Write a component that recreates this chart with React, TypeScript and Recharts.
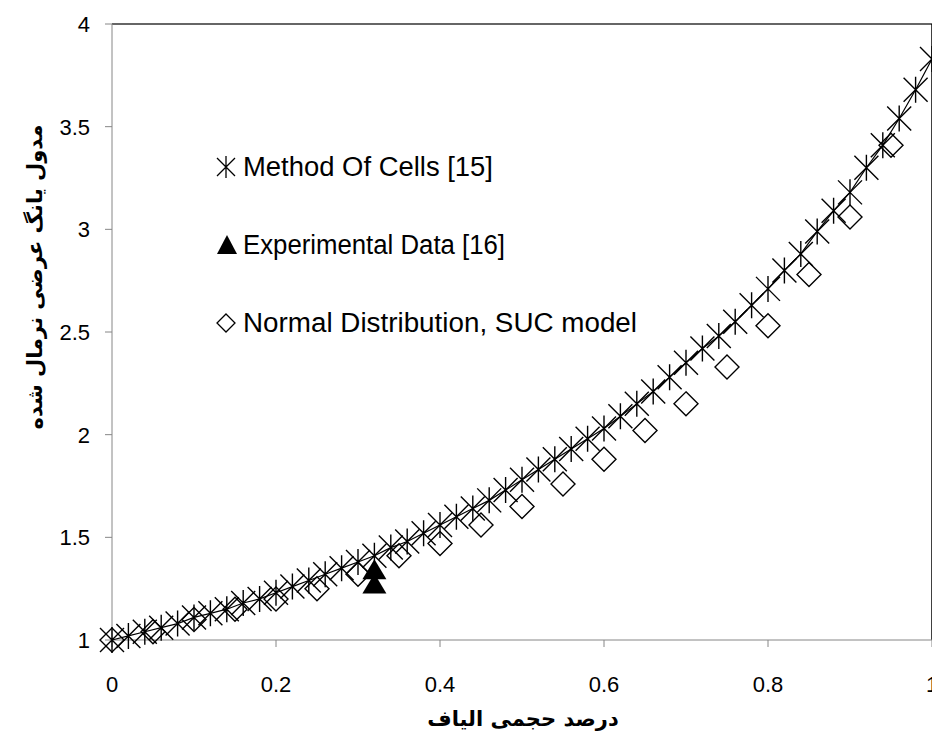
import { ScatterChart, Scatter, XAxis, YAxis, ReferenceLine } from 'recharts';

// Method of Cells [15]
const mocX = [
  0, 0.02, 0.04, 0.06, 0.08, 0.1, 0.12, 0.14, 0.16, 0.18,
  0.2, 0.22, 0.24, 0.26, 0.28, 0.3, 0.32, 0.34, 0.36, 0.38,
  0.4, 0.42, 0.44, 0.46, 0.48, 0.5, 0.52, 0.54, 0.56, 0.58,
  0.6, 0.62, 0.64, 0.66, 0.68, 0.7, 0.72, 0.74, 0.76, 0.78,
  0.8, 0.82, 0.84, 0.86, 0.88, 0.9, 0.92, 0.94, 0.96, 0.98, 1,
];
const mocY = [
  1.0, 1.02, 1.04, 1.06, 1.08, 1.11, 1.13, 1.15, 1.18, 1.2,
  1.23, 1.26, 1.29, 1.32, 1.35, 1.38, 1.41, 1.45, 1.48, 1.52,
  1.56, 1.6, 1.64, 1.68, 1.73, 1.78, 1.83, 1.88, 1.93, 1.98,
  2.03, 2.09, 2.15, 2.21, 2.28, 2.35, 2.42, 2.48, 2.55, 2.63,
  2.71, 2.8, 2.88, 2.99, 3.09, 3.18, 3.3, 3.41, 3.54, 3.68, 3.83,
];

// Experimental Data [16]
const expX = [0.32, 0.32];
const expY = [1.27, 1.34];

// Normal Distribution, SUC model
const sucX = [
  0, 0.05, 0.1, 0.15, 0.2, 0.25, 0.3, 0.35, 0.4, 0.45,
  0.5, 0.55, 0.6, 0.65, 0.7, 0.75, 0.8, 0.85, 0.9, 0.95,
];
const sucY = [
  1.0, 1.04, 1.1, 1.15, 1.2, 1.25, 1.32, 1.41, 1.47, 1.56,
  1.65, 1.76, 1.88, 2.02, 2.15, 2.33, 2.53, 2.78, 3.06, 3.41,
];

const xTicks = [0, 0.2, 0.4, 0.6, 0.8, 1];
const yTicks = [1, 1.5, 2, 2.5, 3, 3.5, 4];

const legendLabels = ['Method Of Cells [15]', 'Experimental Data [16]', 'Normal Distribution, SUC model'];
const xTitle = 'درصد حجمی الیاف';
const yTitle = 'مدول یانگ عرضی نرمال شده';

const mocData = mocX.map((x, i) => ({ x, y: mocY[i] }));
const expData = expX.map((x, i) => ({ x, y: expY[i] }));
const sucData = sucX.map((x, i) => ({ x, y: sucY[i] }));

const legendFont = '"Liberation Sans", Arial, sans-serif';
const tickFont = '"Liberation Sans", Arial, sans-serif';
const titleFont = '"DejaVu Sans", sans-serif';

function Asterisk(props: any) {
  const { cx, cy } = props;
  if (cx == null || cy == null) return <g />;
  return (
    <path
      d={`M${cx - 12},${cy - 12}L${cx + 12},${cy + 12}M${cx - 12},${cy + 12}L${cx + 12},${cy - 12}M${cx},${cy - 13}L${cx},${cy + 13}`}
      stroke="#000"
      strokeWidth={1.4}
      fill="none"
    />
  );
}

function Triangle(props: any) {
  const { cx, cy } = props;
  if (cx == null || cy == null) return <g />;
  return <path d={`M${cx},${cy - 11}L${cx + 12},${cy + 9}L${cx - 12},${cy + 9}Z`} fill="#000" />;
}

function Diamond(props: any) {
  const { cx, cy } = props;
  if (cx == null || cy == null) return <g />;
  return (
    <path
      d={`M${cx},${cy - 12}L${cx + 12},${cy}L${cx},${cy + 12}L${cx - 12},${cy}Z`}
      stroke="#000"
      strokeWidth={1.4}
      fill="none"
    />
  );
}

function XTick(props: any) {
  const { x, y, payload } = props;
  return (
    <text x={x} y={y} dy="0.71em" textAnchor="middle" fontSize={22} fontFamily={tickFont} fill="#000">
      {payload.value}
    </text>
  );
}

// labels end a fixed gap left of the axis line
function YTick(props: any) {
  const { y, payload } = props;
  return (
    <text x={82} y={y} dy="0.36em" textAnchor="end" fontSize={22} fontFamily={tickFont} fill="#000">
      {payload.value}
    </text>
  );
}

export default function App() {
  return (
    <div style={{ position: 'relative', width: 932, height: 732 }}>
      <ScatterChart width={932} height={724} margin={{ top: 16, right: 8, bottom: 0, left: 0 }}>
        <XAxis
          type="number"
          dataKey="x"
          domain={[0, 1]}
          ticks={xTicks}
          height={92}
          stroke="#868686"
          tickSize={7}
          tickMargin={29}
          tick={<XTick />}
        />
        <YAxis
          type="number"
          dataKey="y"
          domain={[1, 4]}
          ticks={yTicks}
          width={104}
          stroke="#868686"
          tickSize={7}
          tickMargin={14}
          tick={<YTick />}
        />
        <ReferenceLine y={4} stroke="#333" strokeWidth={1.5} />
        <ReferenceLine x={1} stroke="#000" strokeWidth={1.5} />
        <Scatter
          data={mocData}
          line={{ stroke: '#000', strokeWidth: 1.2 }}
          lineType="joint"
          shape={Asterisk}
          isAnimationActive={false}
        />
        <Scatter data={expData} shape={Triangle} isAnimationActive={false} />
        <Scatter data={sucData} shape={Diamond} isAnimationActive={false} />
      </ScatterChart>
      <svg
        width={932}
        height={732}
        style={{ position: 'absolute', left: 0, top: 0, pointerEvents: 'none' }}
      >
        <path d="M209,150L227,168M209,168L227,150M218,148L218,170" stroke="#000" strokeWidth={1.3} />
        <text
          x={235}
          y={159}
          fontSize={27}
          fontFamily={legendFont}
          dominantBaseline="central"
          textLength={250}
          lengthAdjust="spacingAndGlyphs"
        >
          {legendLabels[0]}
        </text>
        <path d="M219,227L229,246L209,246Z" fill="#000" />
        <text
          x={235}
          y={237}
          fontSize={27}
          fontFamily={legendFont}
          dominantBaseline="central"
          textLength={262}
          lengthAdjust="spacingAndGlyphs"
        >
          {legendLabels[1]}
        </text>
        <path d="M218,306L227,315L218,324L209,315Z" stroke="#000" strokeWidth={1.3} fill="none" />
        <text
          x={235}
          y={315}
          fontSize={27}
          fontFamily={legendFont}
          dominantBaseline="central"
          textLength={394}
          lengthAdjust="spacingAndGlyphs"
        >
          {legendLabels[2]}
        </text>
        <text
          x={515}
          y={711}
          fontSize={21}
          fontWeight="bold"
          fontFamily={titleFont}
          textAnchor="middle"
          dominantBaseline="central"
          direction="rtl"
        >
          {xTitle}
        </text>
        <text
          x={0}
          y={0}
          transform="translate(27,269) rotate(-90)"
          fontSize={21}
          fontWeight="bold"
          fontFamily={titleFont}
          textAnchor="middle"
          dominantBaseline="central"
          direction="rtl"
        >
          {yTitle}
        </text>
      </svg>
    </div>
  );
}
